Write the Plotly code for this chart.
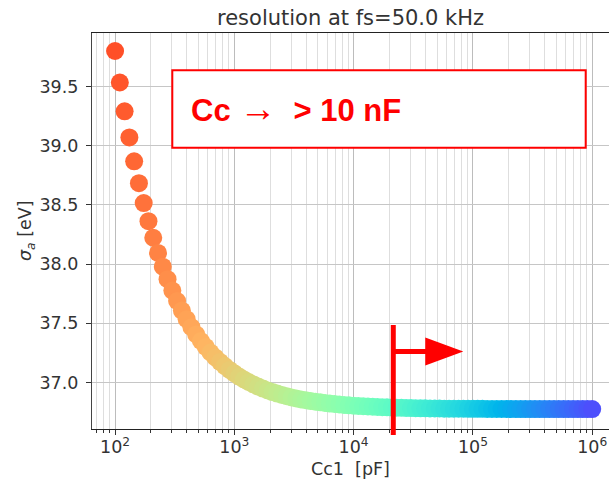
import math
import plotly.graph_objects as go

# ---------------- data ----------------
CC1_PF = [
    100, 109.6, 120.2, 131.8, 144.5, 158.5, 173.8, 190.5, 208.9, 229.1,
    251.2, 275.4, 302.0, 331.1, 363.1, 398.1, 436.5, 478.6, 524.8, 575.4,
    631.0, 691.8, 758.6, 831.8, 912.0, 1000, 1096, 1202, 1318, 1445,
    1585, 1738, 1905, 2089, 2291, 2512, 2754, 3020, 3311, 3631,
    3981, 4365, 4786, 5248, 5754, 6310, 6918, 7586, 8318, 9120,
    10000, 10960, 12020, 13180, 14450, 15850, 17380, 19050, 20890, 22910,
    25120, 27540, 30200, 33110, 36310, 39810, 43650, 47860, 52480, 57540,
    63100, 69180, 75860, 83180, 91200, 100000, 109600, 120200, 131800, 144500,
    158500, 173800, 190500, 208900, 229100, 251200, 275400, 302000, 331100, 363100,
    398100, 436500, 478600, 524800, 575400, 631000, 691800, 758600, 831800, 912000,
    1000000,
]
SIGMA_A_EV = [
    39.800, 39.534, 39.291, 39.070, 38.868, 38.684, 38.516, 38.363, 38.223, 38.095,
    37.979, 37.873, 37.777, 37.689, 37.608, 37.535, 37.468, 37.407, 37.351, 37.301,
    37.254, 37.212, 37.174, 37.139, 37.107, 37.078, 37.051, 37.027, 37.005, 36.984,
    36.966, 36.949, 36.934, 36.920, 36.907, 36.895, 36.885, 36.875, 36.866, 36.858,
    36.851, 36.844, 36.838, 36.833, 36.828, 36.823, 36.819, 36.815, 36.811, 36.808,
    36.805, 36.803, 36.800, 36.798, 36.796, 36.794, 36.792, 36.791, 36.789, 36.788,
    36.787, 36.786, 36.785, 36.784, 36.783, 36.783, 36.782, 36.781, 36.781, 36.780,
    36.780, 36.779, 36.779, 36.779, 36.778, 36.778, 36.778, 36.778, 36.777, 36.777,
    36.777, 36.777, 36.777, 36.777, 36.776, 36.776, 36.776, 36.776, 36.776, 36.776,
    36.776, 36.776, 36.776, 36.776, 36.776, 36.776, 36.776, 36.776, 36.776, 36.776,
    36.776,
]
X_TICK_VALS = [1e2, 1e3, 1e4, 1e5, 1e6]
X_TICK_TEXT = ["10<sup>2</sup>", "10<sup>3</sup>", "10<sup>4</sup>", "10<sup>5</sup>", "10<sup>6</sup>"]
Y_TICK_VALS = [37.0, 37.5, 38.0, 38.5, 39.0, 39.5]
Y_TICK_TEXT = ["37.0", "37.5", "38.0", "38.5", "39.0", "39.5"]
TITLE = "resolution at fs=50.0 kHz"
X_LABEL = "Cc1\u00a0 [pF]"
Y_LABEL = "<i>σ<sub>a</sub></i> [eV]"
CALLOUT_TEXT = ("<b>Cc</b> <span style=\"font-size:37px\">\u2192</span>\u00a0 "
                "<b>> 10 nF</b>")
CC_THRESHOLD_PF = 21500

# ---------------- styling ----------------
W, H = 609, 487
ML, MR, MT, MB = 92, 0, 33, 58
PW, PH = W - ML - MR, H - MT - MB
X_RANGE = [1.8065, 6.141]
Y_RANGE = [36.608, 39.952]
TXT = "#333333"
FONT = "DejaVu Sans"
RED = "#ff0000"


def rainbow(v):
    r = min(1.0, abs(2 * v - 0.5))
    g = math.sin(math.pi * v)
    b = math.cos(math.pi * v / 2)
    return "rgb(%d,%d,%d)" % (round(255 * r), round(255 * g), round(255 * max(0.0, b)))


n = len(CC1_PF)
colors = [rainbow(0.9 - 0.8 * i / (n - 1)) for i in range(n)]

minor_vals = []
for dec in range(1, 7):
    for m in range(2, 10):
        minor_vals.append(m * 10 ** dec)


def px_x(p):
    return (p - ML) / PW


def px_y(p):
    return (H - MB - p) / PH


fig = go.Figure()
fig.add_trace(go.Scatter(
    x=CC1_PF, y=SIGMA_A_EV, mode="markers",
    marker=dict(size=18, color=colors, line=dict(width=0), opacity=1),
    showlegend=False, hoverinfo="skip",
))

fig.update_layout(
    width=W, height=H, autosize=False,
    margin=dict(l=ML, r=MR, t=MT, b=MB, pad=0),
    paper_bgcolor="white", plot_bgcolor="white",
    font=dict(family=FONT, size=17.5, color=TXT),
    showlegend=False,
    xaxis=dict(
        type="log", range=X_RANGE,
        showline=True, linecolor="#222222", linewidth=1.3, mirror=True,
        ticks="outside", ticklen=5, tickwidth=1.2, tickcolor="#333333",
        tickmode="array", tickvals=X_TICK_VALS, ticktext=X_TICK_TEXT,
        tickfont=dict(family=FONT, size=17.5, color=TXT),
        ticklabelstandoff=-3,
        showgrid=True, gridcolor="#bcbcbc", gridwidth=1, zeroline=False,
        minor=dict(tickmode="array", tickvals=minor_vals, ticks="outside",
                   ticklen=3, tickwidth=1, tickcolor="#333333",
                   showgrid=True, gridcolor="#dedede", gridwidth=1),
    ),
    yaxis=dict(
        range=Y_RANGE,
        showline=True, linecolor="#444444", linewidth=1.3, mirror=False,
        ticks="outside", ticklen=5, tickwidth=1.2, tickcolor="#333333",
        tickmode="array", tickvals=Y_TICK_VALS, ticktext=Y_TICK_TEXT,
        tickfont=dict(family=FONT, size=17.5, color=TXT),
        ticklabelstandoff=4,
        showgrid=True, gridcolor="#c6c6c6", gridwidth=1, zeroline=False,
    ),
)

annotations = [
    dict(text=TITLE, xref="paper", yref="paper", x=0.5, y=1, xanchor="center",
         yanchor="middle", yshift=MT - 18, showarrow=False,
         font=dict(family=FONT, size=21, color=TXT)),
    dict(text=X_LABEL, xref="paper", yref="paper", x=0.5, y=0, xanchor="center",
         yanchor="middle", yshift=-(469 - (H - MB)), showarrow=False,
         font=dict(family=FONT, size=17.5, color=TXT)),
    dict(text=Y_LABEL, xref="paper", yref="paper", x=0, y=0.5, xanchor="center",
         yanchor="middle", xshift=-(ML - 26), textangle=-90, showarrow=False,
         font=dict(family=FONT, size=17.5, color=TXT)),
    dict(text=CALLOUT_TEXT, xref="paper", yref="paper", x=px_x(189), y=px_y(108.5),
         xanchor="left", yanchor="middle", showarrow=False,
         font=dict(family="Liberation Sans", size=31, color=RED)),
]
fig.update_layout(annotations=annotations)

shapes = [
    # callout box
    dict(type="rect", xref="paper", yref="paper",
         x0=px_x(172.3), x1=px_x(585.7), y0=px_y(147.7), y1=px_y(70.3),
         line=dict(color=RED, width=2), fillcolor="white", layer="above"),
    # threshold vertical line
    dict(type="line", xref="x", yref="paper", xsizemode="pixel", ysizemode="pixel",
         xanchor=CC_THRESHOLD_PF, x0=0, x1=0, yanchor=0, y0=-6, y1=104,
         line=dict(color=RED, width=5), layer="above"),
    # arrow shaft
    dict(type="line", xref="x", yref="paper", xsizemode="pixel", ysizemode="pixel",
         xanchor=CC_THRESHOLD_PF, x0=0, x1=34, yanchor=0, y0=77.6, y1=77.6,
         line=dict(color=RED, width=5), layer="above"),
    # arrow head
    dict(type="path", xref="x", yref="paper", xsizemode="pixel", ysizemode="pixel",
         xanchor=CC_THRESHOLD_PF, yanchor=0,
         path="M 32,63.6 L 70,77.6 L 32,91.6 Z",
         line=dict(color=RED, width=0), fillcolor=RED, layer="above"),
]
fig.update_layout(shapes=shapes)

fig.write_html("out.html")
